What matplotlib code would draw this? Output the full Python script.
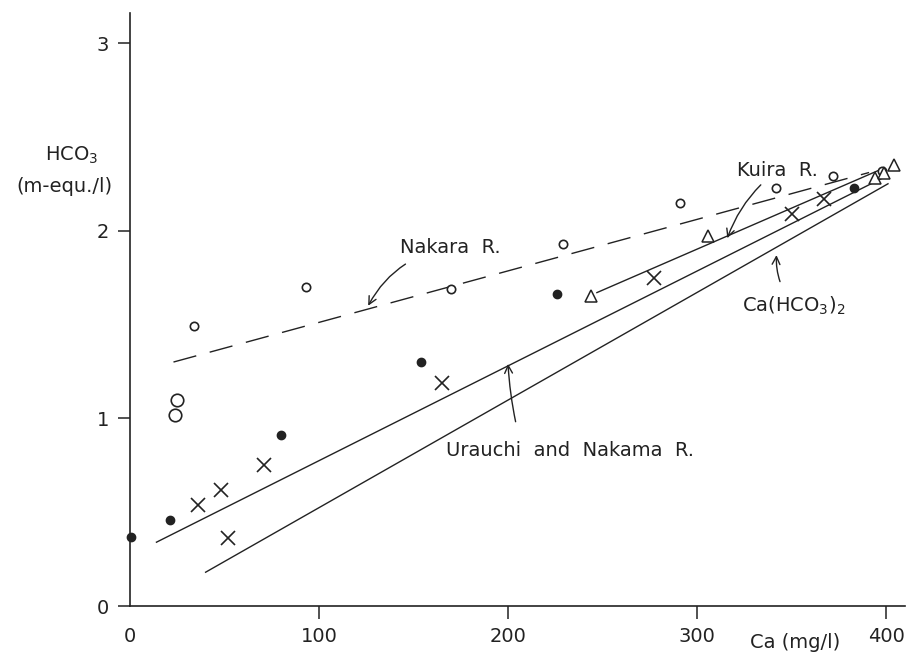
import matplotlib
matplotlib.use("Agg")
import matplotlib.pyplot as plt

# --- data ---
nakara_x = [24, 25, 34, 93, 170, 229, 291, 342, 372, 398]
nakara_y = [1.02, 1.10, 1.49, 1.70, 1.69, 1.93, 2.15, 2.23, 2.29, 2.32]
nakara_big = [True, True, False, False, False, False, False, False, False, False]

urauchi_x = [0.5, 21, 80, 154, 226, 383]
urauchi_y = [0.37, 0.46, 0.91, 1.30, 1.66, 2.23]

nakama_x = [36, 48, 71, 52, 165, 277, 350, 367]
nakama_y = [0.54, 0.62, 0.75, 0.36, 1.19, 1.75, 2.09, 2.17]

kuira_x = [244, 306, 394, 399, 404]
kuira_y = [1.65, 1.97, 2.28, 2.31, 2.35]

# regression / reference lines (end points)
nakara_line_x = [23, 391]
nakara_line_y = [1.30, 2.31]
kuira_line_x = [247, 398]
kuira_line_y = [1.67, 2.33]
urauchi_line_x = [14, 398]
urauchi_line_y = [0.34, 2.28]
cahco3_line_x = [40, 401]
cahco3_line_y = [0.18, 2.25]

x_ticks = [0, 100, 200, 300, 400]
y_ticks = [0, 1, 2, 3]

ink = "#222222"
plt.rcParams['font.family'] = ['DejaVu Sans']

fig = plt.figure(figsize=(9.12, 6.58), dpi=100)
ax = fig.add_axes([130/912, 52/658, 775/912, 593/658])
ax.set_xlim(0, 410)
ax.set_ylim(0, 3.16)

for s in ['top', 'right']:
    ax.spines[s].set_visible(False)
for s in ['left', 'bottom']:
    ax.spines[s].set_color(ink)
    ax.spines[s].set_linewidth(1.2)

ax.set_xticks(x_ticks)
ax.set_yticks(y_ticks)
ax.set_xticklabels(["0", "100", "200", "300", "400"])
ax.set_yticklabels(["0", "1", "2", "3"])
ax.tick_params(axis='both', direction='out', colors=ink, labelsize=14,
               length=9, width=1.1)
ax.tick_params(axis='x', pad=6)
ax.tick_params(axis='y', pad=6)
ax.get_xticklines()[0].set_visible(False)

# lines
ax.plot(nakara_line_x, nakara_line_y, color=ink, lw=1.0, dashes=(17, 10))
ax.plot(kuira_line_x, kuira_line_y, color=ink, lw=1.0)
ax.plot(urauchi_line_x, urauchi_line_y, color=ink, lw=1.0)
ax.plot(cahco3_line_x, cahco3_line_y, color=ink, lw=1.0)

# markers
small_x = [x for x, b in zip(nakara_x, nakara_big) if not b]
small_y = [y for y, b in zip(nakara_y, nakara_big) if not b]
big_x = [x for x, b in zip(nakara_x, nakara_big) if b]
big_y = [y for y, b in zip(nakara_y, nakara_big) if b]
ax.plot(small_x, small_y, 'o', ms=6, mfc='white', mec=ink, mew=1.2, ls='none', clip_on=False)
ax.plot(big_x, big_y, 'o', ms=9, mfc='white', mec=ink, mew=1.2, ls='none', clip_on=False)
ax.plot(urauchi_x, urauchi_y, 'o', ms=6, color=ink, ls='none', clip_on=False)
ax.plot(nakama_x, nakama_y, 'x', ms=10, mec=ink, mew=1.2, ls='none', clip_on=False)
ax.plot(kuira_x, kuira_y, '^', ms=8, mfc='white', mec=ink, mew=1.1, ls='none', clip_on=False)

tfont = dict(fontsize=14, color=ink)

ax.annotate("Nakara  R.", xy=(126, 1.60), xytext=(143, 1.91),
            ha='left', va='center', **tfont,
            arrowprops=dict(arrowstyle='->', color=ink, lw=1.0,
                            shrinkA=6, shrinkB=0,
                            connectionstyle='arc3,rad=0.25'))
ax.annotate("Kuira  R.", xy=(316, 1.96), xytext=(321, 2.32),
            ha='left', va='center', **tfont,
            arrowprops=dict(arrowstyle='->', color=ink, lw=1.0,
                            shrinkA=2, shrinkB=0,
                            connectionstyle='arc3,rad=0.15'))
ax.annotate("Ca(HCO$_3$)$_2$", xy=(342, 1.87), xytext=(324, 1.60),
            ha='left', va='center', **tfont,
            arrowprops=dict(arrowstyle='->', color=ink, lw=1.0,
                            shrinkA=8, shrinkB=0,
                            connectionstyle='arc3,rad=-0.2'))
ax.annotate("Urauchi  and  Nakama  R.", xy=(200, 1.29), xytext=(167, 0.83),
            ha='left', va='center', **tfont,
            arrowprops=dict(arrowstyle='->', color=ink, lw=1.0,
                            shrinkA=12, shrinkB=0, relpos=(0.3, 1.0),
                            connectionstyle='arc3,rad=-0.05'))

# axis labels
fig.text(72/912, 1 - 155/658, "HCO$_3$", ha='center', va='center', **tfont)
fig.text(64/912, 1 - 186/658, "(m-equ./l)", ha='center', va='center', **tfont)
fig.text(795/912, 1 - 643/658, "Ca (mg/l)", ha='center', va='center', **tfont)

fig.savefig("out.png", dpi=100, facecolor='white')
